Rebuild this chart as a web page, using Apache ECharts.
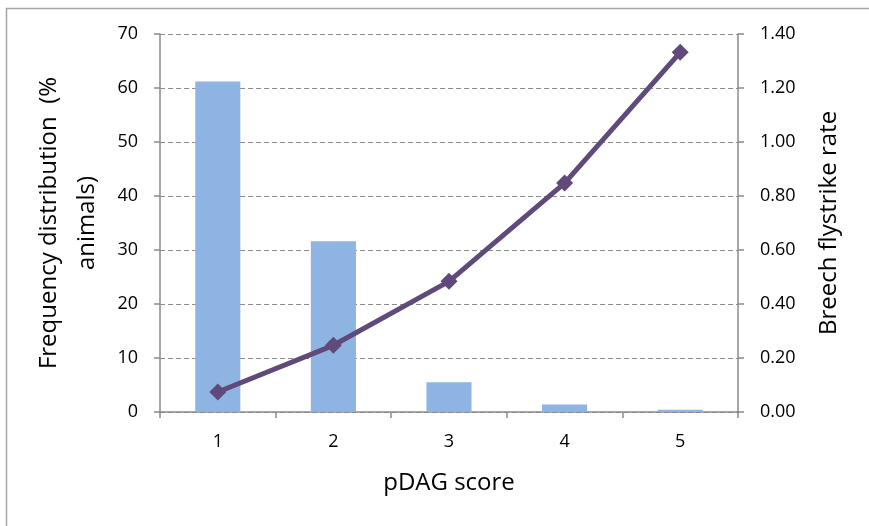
<!DOCTYPE html>
<html><head><meta charset="utf-8">
<script src="https://cdn.jsdelivr.net/npm/echarts@6/dist/echarts.min.js"></script>
<style>html,body{margin:0;padding:0;background:#fff}#c{width:869px;height:526px}</style>
</head><body><div id="c"></div>
<script>
const categories = ['1','2','3','4','5'];
const frequency = [61.2, 31.6, 5.5, 1.4, 0.4];
const flystrike = [0.074, 0.247, 0.484, 0.848, 1.332];
const chart = echarts.init(document.getElementById('c'));
const font = 'Open Sans';
chart.setOption({
  animation:false,
  graphic:[{type:'rect',shape:{x:6.5,y:8.5,width:1000,height:1000},
    style:{fill:'none',stroke:'#a6a6a6',lineWidth:1.5},silent:true}],
  grid:{left:160,right:131,top:34,bottom:114},
  xAxis:{type:'category',data:categories,
    axisLine:{lineStyle:{color:'#8a8a8a',width:1.5}},
    axisTick:{show:true,length:6,lineStyle:{color:'#8a8a8a',width:1.5}},
    axisLabel:{color:'#000',fontFamily:font,fontSize:18,margin:21},
    name:'pDAG score',nameLocation:'middle',nameGap:59,
    nameTextStyle:{color:'#000',fontFamily:font,fontSize:24}},
  yAxis:[{type:'value',min:0,max:70,interval:10,
    axisLine:{show:true,lineStyle:{color:'#8a8a8a',width:1.5}},
    axisTick:{show:true,length:6,inside:false,lineStyle:{color:'#8a8a8a',width:1.5}},
    splitLine:{show:true,lineStyle:{color:'#8c8c8c',type:[5,3],width:1.2}},
    axisLabel:{color:'#000',fontFamily:font,fontSize:18,margin:22},
    name:'Frequency distribution  (%\nanimals)',nameLocation:'middle',nameGap:49,nameRotate:90,
    nameTextStyle:{color:'#000',fontFamily:font,fontSize:24,lineHeight:38}},
   {type:'value',min:0,max:1.4,interval:0.2,
    axisLine:{show:true,lineStyle:{color:'#8a8a8a',width:1.5}},
    axisTick:{show:true,length:6,lineStyle:{color:'#8a8a8a',width:1.5}},
    splitLine:{show:false},
    axisLabel:{color:'#000',fontFamily:font,fontSize:18,margin:22,formatter:v=>v.toFixed(2)},
    name:'Breech flystrike rate',nameLocation:'middle',nameGap:79,nameRotate:90,
    nameTextStyle:{color:'#000',fontFamily:font,fontSize:24}}],
  series:[
    {type:'bar',data:frequency,yAxisIndex:0,barWidth:'39%',itemStyle:{color:'#8EB4E3'}},
    {type:'line',data:flystrike,yAxisIndex:1,symbol:'diamond',symbolSize:17,
     lineStyle:{color:'#604A7B',width:5},itemStyle:{color:'#604A7B'}}
  ]
});
</script></body></html>
